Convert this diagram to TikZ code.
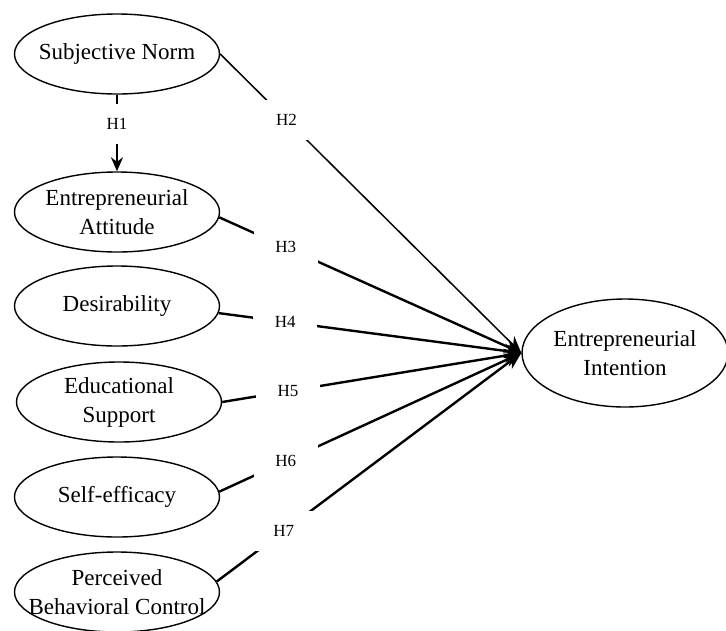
\documentclass[tikz,border=0pt]{standalone}
\usepackage{fontspec}
\setmainfont{Liberation Serif}
\usetikzlibrary{shapes.geometric,arrows.meta}
\tikzset{
	construct/.style={draw, ellipse, line width=1.4pt, inner sep=0pt, minimum width=205pt, minimum height=80pt},
	caption/.style={align=center, inner sep=0pt, font=\fontsize{23}{29}\selectfont},
	hyp/.style={fill=white, inner sep=0pt, minimum width=64pt, minimum height=40pt, font=\fontsize{17}{19}\selectfont},
	path/.style={line width=2.4pt, -{Stealth[length=17pt, width=14pt]}}
}
\begin{document}
\begin{tikzpicture}[x=1pt, y=-1pt]
	\useasboundingbox (0,0) rectangle (726,630);
	% constructs on the left
	\node[construct] (sn) at (117,54) {};
	\node[construct] (ea) at (117,212) {};
	\node[construct] (des) at (117,306) {};
	\node[construct] (edu) at (119,402) {};
	\node[construct] (se) at (117,497) {};
	\node[construct] (pbc) at (117,592) {};
	\node[caption] (snt) at (sn) {Subjective Norm};
	\node[caption] (eat) at (ea) {Entrepreneurial\\Attitude};
	\node[caption] (dest) at (des) {Desirability};
	\node[caption] (edut) at (edu) {Educational\\Support};
	\node[caption] (set) at (se) {Self-efficacy};
	\node[caption] (pbct) at (pbc) {Perceived\\Behavioral Control};
	% outcome
	\node[construct, minimum width=206pt, minimum height=108pt] (ei) at (625,353) {};
	\node[caption] (eit) at (ei) {Entrepreneurial\\Intention};
	% hypotheses
	\draw[path, -{Stealth[length=14pt, width=12pt]}] (sn) -- node[hyp, pos=0.38] {H1} (ea);
	\draw[path, line width=1.5pt] (sn.east) -- node[hyp, pos=0.22] {H2} (ei.west);
	\draw[path] (ea.-3) -- node[hyp, pos=0.22] {H3} (ei.west);
	\draw[path] (des.-4) -- node[hyp, pos=0.22] {H4} (ei.west);
	\draw[path] (edu.east) -- node[hyp, pos=0.22] {H5} (ei.west);
	\draw[path] (se.3) -- node[hyp, pos=0.22] {H6} (ei.west);
	\draw[path] (pbc.6) -- node[hyp, pos=0.22] {H7} (ei.west);
\end{tikzpicture}
\end{document}
